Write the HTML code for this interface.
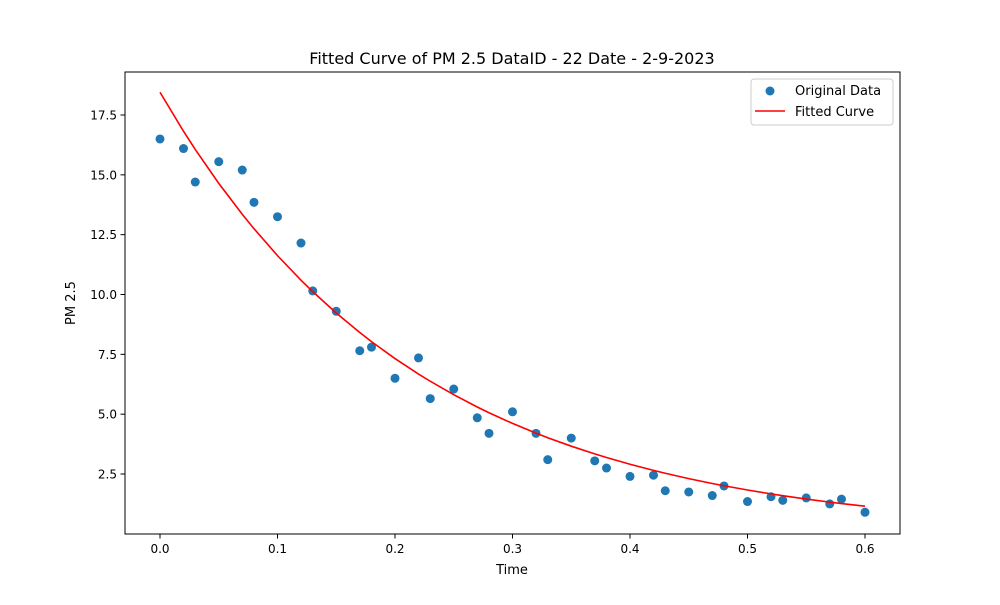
<!DOCTYPE html>
<html><head><meta charset="utf-8"><style>
body{margin:0;background:#fff;font-family:"Liberation Sans","DejaVu Sans",sans-serif}
</style></head><body>
<svg id="chart" width="1000" height="600" xmlns="http://www.w3.org/2000/svg" font-family="DejaVu Sans, Liberation Sans, sans-serif">
<rect width="1000" height="600" fill="#fff"/>
<text x="512" y="64" font-size="16" text-anchor="middle">Fitted Curve of PM 2.5 DataID - 22 Date - 2-9-2023</text>
<g id="axes"></g>
<g id="marks"></g>
<rect x="125" y="72" width="775" height="462" fill="none" stroke="#000" stroke-width="1"/>
<text x="512" y="574" font-size="13" text-anchor="middle">Time</text>
<text x="75" y="303" font-size="13" text-anchor="middle" transform="rotate(-90 75 303)">PM 2.5</text>
<g>
<rect x="751" y="79" width="142" height="46" rx="3" fill="#fff" stroke="#ccc"/>
<circle cx="770" cy="91" r="4.5" fill="#1f77b4"/>
<text x="795" y="95" font-size="13">Original Data</text>
<line x1="755" y1="111" x2="785" y2="111" stroke="#f00" stroke-width="1.6"/>
<text x="795" y="116" font-size="13">Fitted Curve</text>
</g>
</svg>
<script>
const xData=[0,0.02,0.03,0.05,0.07,0.08,0.10,0.12,0.13,0.15,0.17,0.18,0.20,0.22,0.23,0.25,0.27,0.28,0.30,0.32,0.33,0.35,0.37,0.38,0.40,0.42,0.43,0.45,0.47,0.48,0.50,0.52,0.53,0.55,0.57,0.58,0.60];
const yData=[16.5,16.1,14.7,15.55,15.2,13.85,13.25,12.15,10.15,9.3,7.65,7.8,6.5,7.35,5.65,6.05,4.85,4.2,5.1,4.2,3.1,4.0,3.05,2.75,2.4,2.45,1.8,1.75,1.6,2.0,1.35,1.55,1.4,1.5,1.25,1.45,0.9];
const fitParams=[18.45,4.62];
const xTicks=[0,0.1,0.2,0.3,0.4,0.5,0.6];
const xTickLabels=["0.0","0.1","0.2","0.3","0.4","0.5","0.6"];
const yTicks=[2.5,5,7.5,10,12.5,15,17.5];
const yTickLabels=["2.5","5.0","7.5","10.0","12.5","15.0","17.5"];
const X=v=>160+v*1175, Y=v=>474-(v-2.5)*23.933;
const NS="http://www.w3.org/2000/svg";
const ax=document.getElementById('axes'), mk=document.getElementById('marks');
function el(t,a,p){const e=document.createElementNS(NS,t);for(const k in a)e.setAttribute(k,a[k]);p.appendChild(e);return e;}
xTicks.forEach((v,i)=>{
 const l=el('line',{x1:X(v),x2:X(v),y1:534,y2:538.5,stroke:'#000'},ax);
 
 
 const t=el('text',{x:X(v),y:553,'font-size':12,'text-anchor':'middle'},ax);t.textContent=xTickLabels[i];
 
 
});
yTicks.forEach((v,i)=>{
 const l=el('line',{x1:120.5,x2:125,y1:Y(v),y2:Y(v),stroke:'#000'},ax);
 
 
 const t=el('text',{x:117,y:Y(v)+4.5,'font-size':12,'text-anchor':'end'},ax);t.textContent=yTickLabels[i];
 
 
});
xData.forEach((x,i)=>{
 const c=el('circle',{cx:X(x),cy:Y(yData[i]),r:4.5,fill:'#1f77b4'},mk);
 
 
});
const pts=xData.map(x=>X(x)+','+Y(fitParams[0]*Math.exp(-fitParams[1]*x))).join(' ');
const pl=el('polyline',{points:pts,fill:'none',stroke:'#f00','stroke-width':1.6},mk);


</script>
</body></html>
